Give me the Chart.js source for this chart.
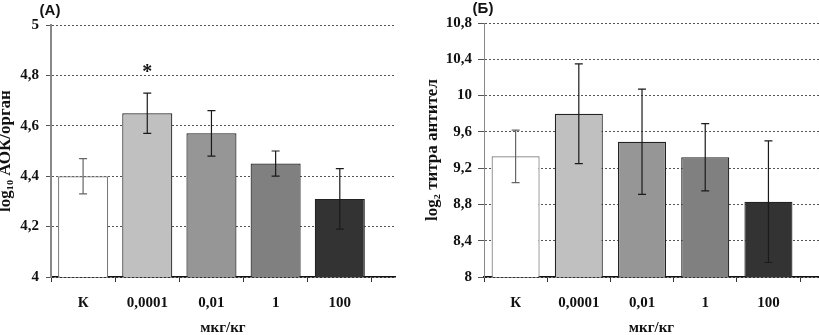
<!DOCTYPE html>
<html lang="ru">
<head>
<meta charset="UTF-8">
<title>АОК и титр антител</title>
<script src="https://cdn.jsdelivr.net/npm/chart.js"></script>
<style>
  body { margin: 0; background: #fff; }
  .row { display: flex; width: 819px; height: 335px; }
  canvas { display: block; }
</style>
</head>
<body>
<div class="row">
  <canvas id="chartA" width="410" height="335"></canvas>
  <canvas id="chartB" width="409" height="335"></canvas>
</div>
<script>
// doses on the x axis
const doses = ["К", "0,0001", "0,01", "1", "100"];

// (А) log10 АОК per organ
const aokMeans = [4.40, 4.65, 4.57, 4.45, 4.31];
const aokErrors = [0.07, 0.08, 0.09, 0.05, 0.12];
const aokTicks = [4, 4.2, 4.4, 4.6, 4.8, 5];

// (Б) log2 antibody titre
const titerMeans = [9.33, 9.80, 9.49, 9.32, 8.83];
const titerErrors = [0.29, 0.55, 0.58, 0.37, 0.67];
const titerTicks = [8, 8.4, 8.8, 9.2, 9.6, 10, 10.4, 10.8];

const barFills = ["#ffffff", "#c0c0c0", "#969696", "#808080", "#333333"];
const barEdges = ["#777777", "#222222", "#222222", "#222222", "#222222"];
const serif = "'Liberation Serif', 'Times New Roman', serif";

function fmt(v) {
  const r = Math.round(v * 10) / 10;
  return Number.isInteger(r) ? String(r) : r.toFixed(1).replace(".", ",");
}

// error bars + significance star
const errorBars = {
  id: "errorBars",
  afterDatasetsDraw(chart) {
    const ds = chart.data.datasets[0];
    const meta = chart.getDatasetMeta(0);
    const y = chart.scales.y;
    const ctx = chart.ctx;
    ctx.save();
    meta.data.forEach((bar, i) => {
      const v = ds.data[i].y, e = ds.errors[i];
      const top = y.getPixelForValue(v + e);
      const bot = y.getPixelForValue(v - e);
      ctx.strokeStyle = i === 0 ? "#666" : "#1a1a1a";
      ctx.lineWidth = 1.2;
      ctx.beginPath();
      ctx.moveTo(bar.x, top); ctx.lineTo(bar.x, bot);
      ctx.moveTo(bar.x - 4, top); ctx.lineTo(bar.x + 4, top);
      ctx.moveTo(bar.x - 4, bot); ctx.lineTo(bar.x + 4, bot);
      ctx.stroke();
      if (ds.star === i) {
        ctx.fillStyle = "#111";
        ctx.font = "bold 20px " + serif;
        ctx.textAlign = "center";
        ctx.textBaseline = "middle";
        ctx.fillText("*", bar.x, top - 20);
      }
    });
    ctx.restore();
  }
};

// panel letter above the y axis
const panelLetter = {
  id: "panelLetter",
  afterDraw(chart, args, opts) {
    const ctx = chart.ctx;
    const a = chart.chartArea;
    ctx.save();
    ctx.fillStyle = "#111";
    ctx.font = "bold 15px 'Liberation Sans', Arial, sans-serif";
    ctx.textAlign = "center";
    ctx.textBaseline = "middle";
    ctx.fillText(opts.text, a.left - 1, a.top - 14);
    ctx.restore();
  }
};

function makeChart(id, p) {
  const yMin = p.yTicks[0];
  const yMax = p.yTicks[p.yTicks.length - 1];
  const yStep = p.yTicks[1] - p.yTicks[0];
  return new Chart(document.getElementById(id), {
    type: "bar",
    data: {
      datasets: [{
        data: p.means.map((v, i) => ({ x: i + 0.5, y: v })),
        errors: p.errors,
        star: p.star,
        backgroundColor: barFills,
        borderColor: barEdges,
        borderWidth: 1.2,
        barPercentage: p.barPct,
        categoryPercentage: 1,
        xAxisID: "x",
        yAxisID: "y"
      }]
    },
    options: {
      responsive: false,
      animation: false,
      layout: { padding: { top: p.padTop, right: p.padRight, left: 0, bottom: 0 } },
      plugins: {
        legend: { display: false },
        tooltip: { enabled: false },
        panelLetter: { text: p.letter }
      },
      scales: {
        // boundaries between dose groups (tick marks only)
        x: {
          type: "linear", position: "bottom", weight: 0, offset: false,
          min: 0, max: p.xMax,
          afterFit: s => { s.height = 6; },
          ticks: { stepSize: 1, includeBounds: false, autoSkip: false, display: false },
          grid: { offset: false, drawOnChartArea: false, drawTicks: true, tickLength: 5, color: "#333" },
          border: { color: "#111", width: 1.5 }
        },
        // dose names, centred in each group
        xl: {
          type: "linear", position: "bottom", weight: 1, offset: false,
          min: -0.5, max: p.xMax - 0.5,
          afterFit: s => { s.height = 52; },
          grid: { display: false },
          border: { display: false },
          ticks: {
            stepSize: 1, includeBounds: false, autoSkip: false, maxRotation: 0,
            padding: 3, color: "#111",
            font: { family: serif, weight: "bold", size: 15 },
            callback: v => doses[Math.round(v)]
          },
          title: {
            display: true, text: "мкг/кг", color: "#111",
            font: { family: serif, weight: "bold", size: 15, lineHeight: 1 },
            padding: { top: 0, bottom: -1 }
          }
        },
        y: {
          min: yMin, max: yMax,
          afterFit: s => { s.width = p.yWidth; },
          ticks: {
            stepSize: yStep, padding: p.tickPad, color: "#111",
            font: { family: serif, weight: "bold", size: 15 },
            callback: v => fmt(v)
          },
          grid: {
            color: "#555", lineWidth: 1, drawTicks: true, tickLength: p.tickLen
          },
          border: { color: "#888", width: p.yBorder, dash: [2, 2] },
          title: {
            display: true, text: p.yTitle, color: "#111",
            font: { family: serif, weight: "bold", size: 17, lineHeight: 1 },
            padding: { top: p.titleTop, bottom: 0 }
          }
        }
      }
    },
    plugins: [errorBars, panelLetter]
  });
}

makeChart("chartA", {
  letter: "(А)", means: aokMeans, errors: aokErrors, yTicks: aokTicks, star: 1,
  yTitle: "log₁₀ АОК/орган", xMax: 5.36, yWidth: 51, padTop: 25, padRight: 15,
  tickLen: 5, tickPad: 7, yBorder: 2, titleTop: -3, barPct: 0.78
});

makeChart("chartB", {
  letter: "(Б)", means: titerMeans, errors: titerErrors, yTicks: titerTicks, star: null,
  yTitle: "log₂ титра антител", xMax: 5.30, yWidth: 74, padTop: 23, padRight: 0,
  tickLen: 6, tickPad: 6, yBorder: 1, titleTop: 14, barPct: 0.76
});
</script>
</body>
</html>
